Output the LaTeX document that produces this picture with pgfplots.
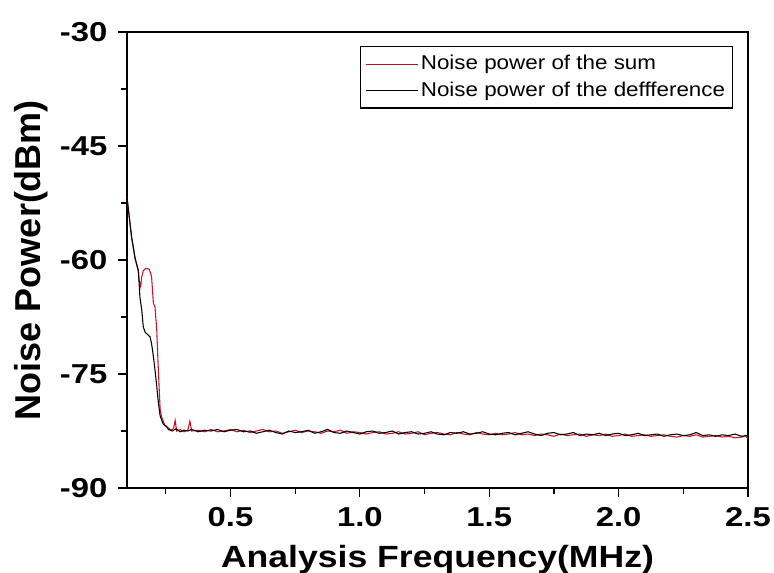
\documentclass[border=0pt]{standalone}
\usepackage{fontspec}
\setmainfont{Liberation Sans}
\newfontfamily\tickfont[FakeStretch=1.2]{Liberation Sans}
\newfontfamily\xlabfont[FakeStretch=1.16]{Liberation Sans}
\newfontfamily\legfont[FakeStretch=1.12]{Liberation Sans}
\usepackage{pgfplots}
\pgfplotsset{compat=1.18}
\definecolor{sumred}{RGB}{205,15,35}

\pgfplotstableread{
x y
0.099 -51.6
0.105 -53.3
0.118 -57.1
0.131 -59.8
0.144 -61.5
0.147 -62.7
0.153 -63.5
0.157 -62.2
0.163 -61.4
0.173 -61.1
0.186 -61.2
0.195 -62.2
0.202 -65.7
0.208 -66.1
0.215 -69.2
0.219 -72.7
0.224 -76.6
0.228 -79.6
0.234 -80.7
0.247 -81.8
0.260 -82.1
0.270 -82.4
0.280 -82.2
0.286 -81.1
0.292 -82.5
0.305 -82.3
0.320 -82.6
0.335 -82.4
0.343 -81.2
0.350 -82.5
0.375 -82.4
0.400 -82.6
0.425 -82.3
0.450 -82.6
0.475 -82.5
0.500 -82.3
0.525 -82.6
0.550 -82.4
0.575 -82.7
0.600 -82.5
0.625 -82.3
0.650 -82.6
0.675 -82.5
0.700 -82.8
0.725 -82.6
0.750 -82.4
0.775 -82.7
0.800 -82.5
0.825 -82.6
0.850 -82.8
0.875 -82.5
0.900 -82.6
0.925 -82.4
0.950 -82.8
0.975 -82.6
1.000 -82.7
1.025 -82.9
1.050 -82.7
1.075 -82.6
1.100 -82.9
1.125 -82.8
1.150 -82.6
1.175 -82.9
1.200 -82.8
1.225 -82.6
1.250 -83.0
1.275 -82.8
1.300 -82.7
1.325 -82.9
1.350 -83.0
1.375 -82.7
1.400 -82.9
1.425 -83.0
1.450 -82.7
1.475 -82.9
1.500 -83.0
1.525 -82.8
1.550 -83.0
1.575 -82.9
1.600 -82.7
1.625 -83.0
1.650 -82.9
1.675 -83.1
1.700 -82.9
1.725 -83.0
1.750 -83.2
1.775 -82.9
1.800 -83.1
1.825 -83.0
1.850 -82.9
1.875 -83.2
1.900 -83.0
1.925 -83.1
1.950 -82.9
1.975 -83.2
2.000 -83.1
2.025 -82.9
2.050 -83.2
2.075 -83.1
2.100 -83.0
2.125 -83.2
2.150 -83.1
2.175 -83.0
2.200 -83.2
2.225 -83.3
2.250 -83.1
2.275 -83.2
2.300 -83.0
2.325 -83.3
2.350 -83.2
2.375 -83.1
2.400 -83.3
2.425 -83.2
2.450 -83.4
2.475 -83.3
2.490 -83.1
2.500 -83.5
}\sumdata

\pgfplotstableread{
x y
0.099 -51.4
0.105 -53.2
0.118 -57.0
0.131 -59.7
0.144 -61.4
0.150 -64.9
0.157 -66.6
0.163 -68.8
0.170 -69.5
0.189 -70.1
0.195 -71.0
0.202 -72.7
0.208 -74.4
0.215 -76.6
0.221 -78.7
0.228 -80.5
0.240 -81.6
0.253 -81.9
0.260 -82.3
0.275 -82.5
0.290 -82.2
0.305 -82.6
0.320 -82.4
0.335 -82.5
0.350 -82.3
0.375 -82.6
0.400 -82.4
0.425 -82.5
0.450 -82.3
0.475 -82.6
0.500 -82.4
0.525 -82.3
0.550 -82.6
0.575 -82.5
0.600 -82.8
0.625 -82.6
0.650 -82.4
0.675 -82.7
0.700 -82.9
0.725 -82.5
0.750 -82.7
0.775 -82.6
0.800 -82.4
0.825 -82.8
0.850 -82.6
0.875 -82.3
0.900 -82.7
0.925 -82.8
0.950 -82.5
0.975 -82.7
1.000 -82.9
1.025 -82.6
1.050 -82.5
1.075 -82.8
1.100 -82.7
1.125 -82.5
1.150 -82.9
1.175 -82.7
1.200 -82.6
1.225 -82.9
1.250 -82.8
1.275 -82.6
1.300 -82.9
1.325 -83.0
1.350 -82.7
1.375 -82.8
1.400 -82.6
1.425 -82.9
1.450 -82.8
1.475 -82.6
1.500 -82.9
1.525 -83.0
1.550 -82.8
1.575 -82.7
1.600 -83.0
1.625 -82.8
1.650 -82.6
1.675 -82.9
1.700 -83.1
1.725 -82.8
1.750 -82.7
1.775 -83.0
1.800 -82.9
1.825 -82.7
1.850 -83.1
1.875 -82.9
1.900 -83.0
1.925 -82.8
1.950 -83.1
1.975 -82.9
2.000 -82.8
2.025 -83.1
2.050 -83.0
2.075 -82.8
2.100 -83.1
2.125 -83.0
2.150 -82.9
2.175 -83.2
2.200 -83.0
2.225 -82.9
2.250 -83.1
2.275 -83.0
2.300 -82.7
2.325 -83.1
2.350 -83.0
2.375 -83.2
2.400 -83.0
2.425 -83.1
2.450 -82.9
2.475 -83.2
2.500 -83.1
}\diffdata

\begin{document}
\begin{tikzpicture}
\path[use as bounding box] (-95.25pt,-63pt) rectangle (485.25pt,366pt);
\begin{axis}[
  at={(0pt,0pt)}, anchor=south west,
  scale only axis, width=465.75pt, height=342pt,
  xmin=0.1, xmax=2.5, ymin=-90, ymax=-30,
  xtick={0.5,1.0,1.5,2.0,2.5},
  minor xtick={0.25,0.75,1.25,1.75,2.25},
  ytick={-90,-75,-60,-45,-30},
  minor ytick={-82.5,-67.5,-52.5,-37.5},
  tick pos=left, tick align=outside,
  major tick length=6.75pt, minor tick length=4.5pt,
  every tick/.style={black, line width=0.9pt},
  axis line style={line width=1pt},
  /pgf/number format/assume math mode=true,
  xticklabel style={font=\tickfont\bfseries\fontsize{20.5}{24}\selectfont, yshift=-4.5pt,
    /pgf/number format/.cd, fixed, fixed zerofill, precision=1},
  yticklabel style={font=\tickfont\bfseries\fontsize{20.5}{24}\selectfont, xshift=-4.5pt},
  xlabel={Analysis Frequency(MHz)},
  xlabel style={font=\xlabfont\bfseries\fontsize{23}{27}\selectfont,
    at={(axis description cs:0.5,0)}, anchor=base, yshift=-59.25pt},
  ylabel={Noise Power(dBm)},
  ylabel style={font=\bfseries\fontsize{27}{32}\selectfont,
    at={(axis description cs:-0.1537,0.5)}, anchor=center},
  legend style={at={(axis description cs:0.976,0.969)}, anchor=north east,
    draw=black, line width=1pt, inner sep=3.5pt, row sep=1pt,
    font=\legfont\fontsize{15}{18}\selectfont,
    nodes={inner sep=2pt, text height=11.5pt, text depth=3.5pt}},
  legend cell align=left,
  legend image code/.code={\draw[#1, line width=0.9pt] (0pt,0pt) -- (39pt,0pt);},
]
\addplot[sumred, line width=0.8pt] table[x=x,y=y] {\sumdata};
\addlegendentry{Noise power of the sum}
\addplot[black, line width=0.8pt] table[x=x,y=y] {\diffdata};
\addlegendentry{Noise power of the deffference}
\end{axis}
\end{tikzpicture}
\end{document}
